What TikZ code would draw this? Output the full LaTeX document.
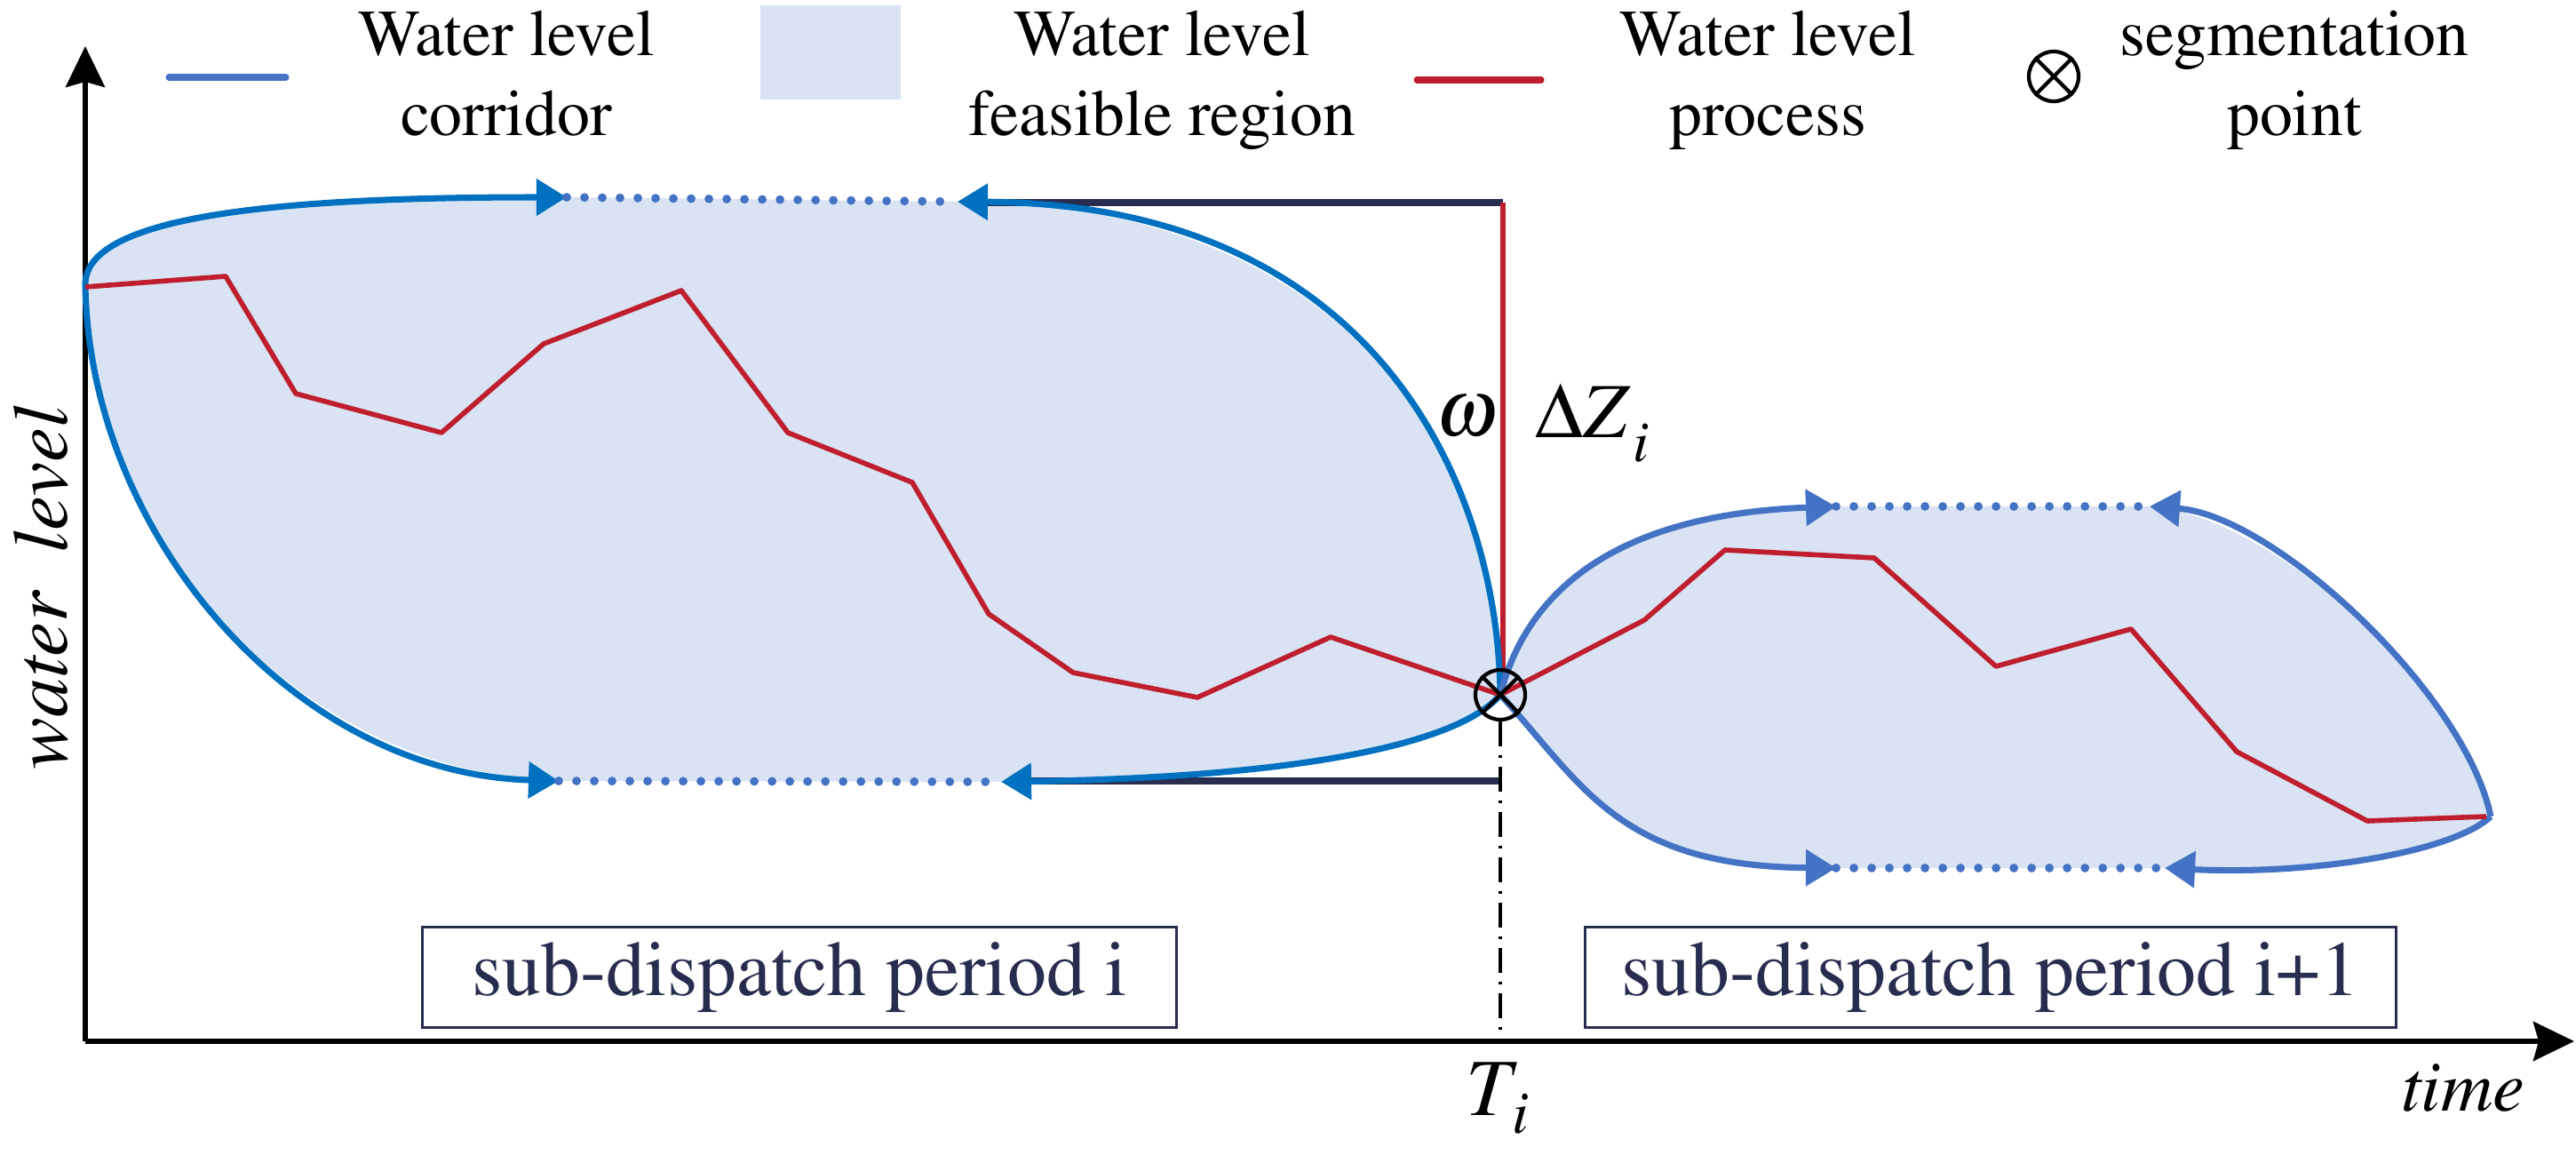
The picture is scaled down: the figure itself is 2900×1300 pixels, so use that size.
\documentclass[tikz,border=0pt]{standalone}
\usepackage[T1]{fontenc}
\usepackage{mathptmx}
\usetikzlibrary{arrows.meta}

\definecolor{corrL}{RGB}{0,112,192}
\definecolor{corrR}{RGB}{68,114,196}
\definecolor{feas}{RGB}{218,227,243}
\definecolor{proc}{RGB}{190,30,45}
\definecolor{navy}{RGB}{40,45,80}

\begin{document}
\begin{tikzpicture}[x=0.01cm, y=-0.01cm,
  legtext/.style={align=center, inner sep=0pt, font=\fontsize{21}{25.6}\selectfont},
  period/.style={draw=navy, line width=0.8pt, text=navy, minimum height=1.13cm, inner sep=0pt, font=\fontsize{25}{30}\selectfont},
  corridor/.style={line width=2pt, -{Triangle[length=0.34cm, width=0.40cm]}},
  gap/.style={corrR, line width=2.8pt, line cap=round, dash pattern=on 0pt off 0.2cm},
  bound/.style={navy, line width=2pt},
  process/.style={proc, line width=1.6pt, line join=round},
  segmk/.style={draw, circle, line width=1.2pt, minimum size=0.56cm, inner sep=0pt},
  axis/.style={line width=1.5pt, -{Stealth[length=0.46cm, width=0.44cm, inset=0.06cm]}}]

  \useasboundingbox (0,0) rectangle (2900,1300);

  % Key points
  \coordinate (O) at (96,1172);
  \coordinate (ytop) at (96,52);
  \coordinate (xend) at (2898,1172);
  \coordinate (seg) at (1689,782);
  \coordinate (Ti) at (1689,1172);
  \coordinate (lt) at (96,320);
  \coordinate (ua) at (638,222);
  \coordinate (ub) at (1078,227);
  \coordinate (la) at (629,879);
  \coordinate (lb) at (1127,880);
  \coordinate (rt) at (2804,919);
  \coordinate (rua) at (2067,570);
  \coordinate (rub) at (2420,570);
  \coordinate (rla) at (2067,977);
  \coordinate (rlb) at (2437,977);
  \coordinate (ubn) at (1110,228);
  \coordinate (tz) at (1692,228);
  \coordinate (lbn) at (1158,879);
  \coordinate (bz) at (1689,879);

  % Feasible regions
  \fill[feas] (lt) .. controls (96,240) and (330,222) .. (ua) -- (ub) .. controls (1560,230) and (1687,560) .. (seg) .. controls (1640,840) and (1450,875) .. (lb) -- (la) .. controls (330,870) and (100,600) .. (lt) -- cycle;
  \fill[feas] (seg) .. controls (1715,680) and (1800,580) .. (rua) -- (rub) .. controls (2560,580) and (2775,780) .. (rt) .. controls (2760,960) and (2600,985) .. (rlb) -- (rla) .. controls (1820,975) and (1780,880) .. (seg) -- cycle;

  % Axes
  \draw[axis] (O) -- (ytop);
  \draw[axis, line width=1.8pt] (O) -- (xend);

  % Bounds of period i
  \draw[bound] (ubn) -- (tz);
  \draw[bound] (lbn) -- (bz);
  \draw[proc, line width=1.8pt] (tz) -- (tz |- seg);

  % Corridor of period i
  \draw[corridor, corrL] (lt) .. controls (96,240) and (330,222) .. (ua);
  \draw[corridor, corrL] (seg) .. controls (1687,560) and (1560,230) .. (ub);
  \draw[corridor, corrL] (lt) .. controls (100,600) and (330,870) .. (la);
  \draw[corridor, corrL] (seg) .. controls (1640,840) and (1450,875) .. (lb);
  \draw[gap] (ua) -- (ub);
  \draw[gap] (la) -- (lb);

  % Corridor of period i+1
  \draw[corridor, corrR] (seg) .. controls (1715,680) and (1800,580) .. (rua);
  \draw[corridor, corrR] (rt) .. controls (2775,780) and (2560,580) .. (rub);
  \draw[corridor, corrR] (seg) .. controls (1780,880) and (1820,975) .. (rla);
  \draw[corridor, corrR] (rt) .. controls (2760,960) and (2600,985) .. (rlb);
  \draw[gap] (rua) -- (rub);
  \draw[gap] (rla) -- (rlb);

  % Water level process
  \draw[process] (96,323) -- (254,311) -- (333,443) -- (497,487) -- (612,387) -- (767,327) -- (887,487) -- (1027,543) -- (1113,691) -- (1208,757) -- (1348,785) -- (1498,717) -- (seg);
  \draw[process] (seg) -- (1851,698) -- (1942,619) -- (2110,628) -- (2247,750) -- (2399,708) -- (2518,846) -- (2665,924) -- (2799,919);

  % Segmentation point
  \node[segmk] (sp) at (seg) {};
  \draw[line width=1.2pt] (sp.north west) -- (sp.south east);
  \draw[line width=1.2pt] (sp.north east) -- (sp.south west);
  \draw[line width=1pt, dash pattern=on 0.28cm off 0.1cm on 0.03cm off 0.1cm] (sp.south) -- (Ti);

  % Labels
  \node[rotate=90, anchor=base, font=\fontsize{25}{30}\selectfont\itshape] (ylab) at (75,662) {water\enspace level};
  \node[anchor=base, font=\fontsize{23}{28}\selectfont\itshape] (xlab) at (2773,1250) {time};
  \node[anchor=base west, inner sep=0pt, font=\fontsize{26}{30}\selectfont] (tlab) at (1650,1255) {$T_{\,\lower2pt\hbox{$\scriptstyle i$}}$};
  \node[anchor=base, inner sep=0pt, font=\fontsize{26}{30}\selectfont] (omg) at (1652,490) {$\omega$};
  \node[anchor=base west, inner sep=0pt, font=\fontsize{25}{30}\selectfont] (dz) at (1728,492) {$\Delta Z_{\,\lower4pt\hbox{$\scriptstyle i$}}$};

  % Sub-dispatch periods
  \node[period, minimum width=8.49cm] (per1) at (900,1100) {sub-dispatch period i};
  \node[period, minimum width=9.13cm] (per2) at (2241,1100) {sub-dispatch period i+1};

  % Legend
  \draw[corrR, line width=2pt, line cap=round] (190,87) -- (322,87);
  \node[legtext, anchor=north] (lg1) at (570,12) {Water level\\corridor};
  \fill[feas] (856,6) rectangle (1014,112);
  \node[legtext, anchor=north] (lg2) at (1308,12) {Water level\\feasible region};
  \draw[proc, line width=2pt, line cap=round] (1595,90) -- (1735,90);
  \node[legtext, anchor=north] (lg3) at (1990,12) {Water level\\process};
  \node[segmk] (lgseg) at (2312,86) {};
  \draw[line width=1.2pt] (lgseg.north west) -- (lgseg.south east);
  \draw[line width=1.2pt] (lgseg.north east) -- (lgseg.south west);
  \node[legtext, anchor=north] (lg4) at (2583,12) {segmentation\\point};

\end{tikzpicture}
\end{document}
